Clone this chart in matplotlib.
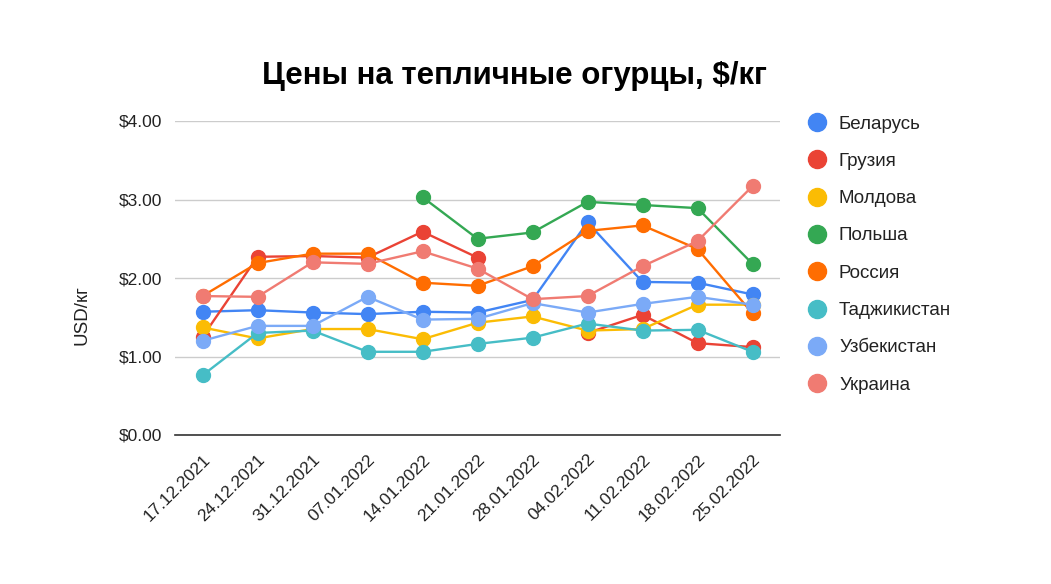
import matplotlib
matplotlib.use("Agg")
import matplotlib.pyplot as plt
from matplotlib.lines import Line2D
import numpy as np

dates = ["17.12.2021", "24.12.2021", "31.12.2021", "07.01.2022", "14.01.2022",
         "21.01.2022", "28.01.2022", "04.02.2022", "11.02.2022", "18.02.2022", "25.02.2022"]

belarus    = [1.57, 1.59, 1.56, 1.54, 1.57, 1.56, 1.72, 2.71, 1.95, 1.94, 1.79]
georgia    = [1.25, 2.27, 2.28, 2.26, 2.59, 2.26, None, 1.30, 1.53, 1.17, 1.12]
moldova    = [1.37, 1.23, 1.35, 1.35, 1.22, 1.43, 1.51, 1.33, 1.35, 1.66, 1.66]
poland     = [None, None, None, None, 3.03, 2.50, 2.58, 2.97, 2.93, 2.89, 2.18]
russia     = [1.77, 2.19, 2.31, 2.31, 1.94, 1.90, 2.15, 2.60, 2.67, 2.37, 1.55]
tajik      = [0.76, 1.30, 1.33, 1.06, 1.06, 1.16, 1.24, 1.42, 1.33, 1.34, 1.06]
uzbek      = [1.20, 1.39, 1.39, 1.76, 1.47, 1.48, 1.68, 1.56, 1.67, 1.76, 1.66]
ukraine    = [1.77, 1.76, 2.20, 2.18, 2.34, 2.12, 1.73, 1.77, 2.15, 2.47, 3.17]

names = ["Беларусь", "Грузия", "Молдова", "Польша", "Россия", "Таджикистан", "Узбекистан", "Украина"]
colors = ["#4285F4", "#EA4335", "#FBBC04", "#34A853", "#FF6D01", "#46BDC6", "#7BAAF7", "#F07B72"]
series = [belarus, georgia, moldova, poland, russia, tajik, uzbek, ukraine]
yticks = [0, 1, 2, 3, 4]
ytick_labels = ["$0.00", "$1.00", "$2.00", "$3.00", "$4.00"]

plt.rcParams['font.family'] = ['Liberation Sans', 'DejaVu Sans']

W, H = 1051, 584
fig = plt.figure(figsize=(W / 100, H / 100), dpi=100)
ax = fig.add_axes([175 / W, 1 - 435 / H, 605 / W, 314 / H])

x = np.arange(len(dates))
for vals, c in zip(series, colors):
    y = np.array([np.nan if v is None else v for v in vals], dtype=float)
    ax.plot(x, y, color=c, lw=1.7, marker='o', ms=10, mec=c, mfc=c, zorder=3)

ax.set_xlim(-0.5, len(dates) - 0.5)
ax.set_ylim(0, 4)
ax.set_yticks(yticks)
ax.set_yticklabels(ytick_labels, fontsize=12.5, color="#222222")
ax.set_xticks(x)
ax.set_xticklabels(dates, rotation=45, ha='right', va='top', rotation_mode='anchor',
                   fontsize=12.5, color="#222222")
ax.tick_params(axis='y', length=0, pad=9)
ax.tick_params(axis='x', length=0, pad=12)
ax.grid(axis='y', color='#cccccc', lw=1)
ax.set_axisbelow(True)
for s in ['top', 'right', 'left']:
    ax.spines[s].set_visible(False)
ax.spines['bottom'].set_color('#333333')
ax.spines['bottom'].set_linewidth(1.2)

fig.text(82 / W, 1 - 315 / H, "USD/кг", rotation=90, ha='center', va='center',
         fontsize=13.5, color="#222222")

fig.text(515 / W, 1 - 76 / H, "Цены на тепличные огурцы, $/кг", ha='center', va='center',
         fontsize=22.5, fontweight='bold', color='#000000')

# legend
for i, (n, c) in enumerate(zip(names, colors)):
    yy = 1 - (122 + i * 37.3) / H
    fig.add_artist(Line2D([817 / W], [yy], transform=fig.transFigure, ls='none',
                          marker='o', ms=13, color=c))
    fig.text(839 / W, yy, n, ha='left', va='center_baseline', fontsize=13.5, color='#222222')

fig.savefig("out.png", dpi=100)
